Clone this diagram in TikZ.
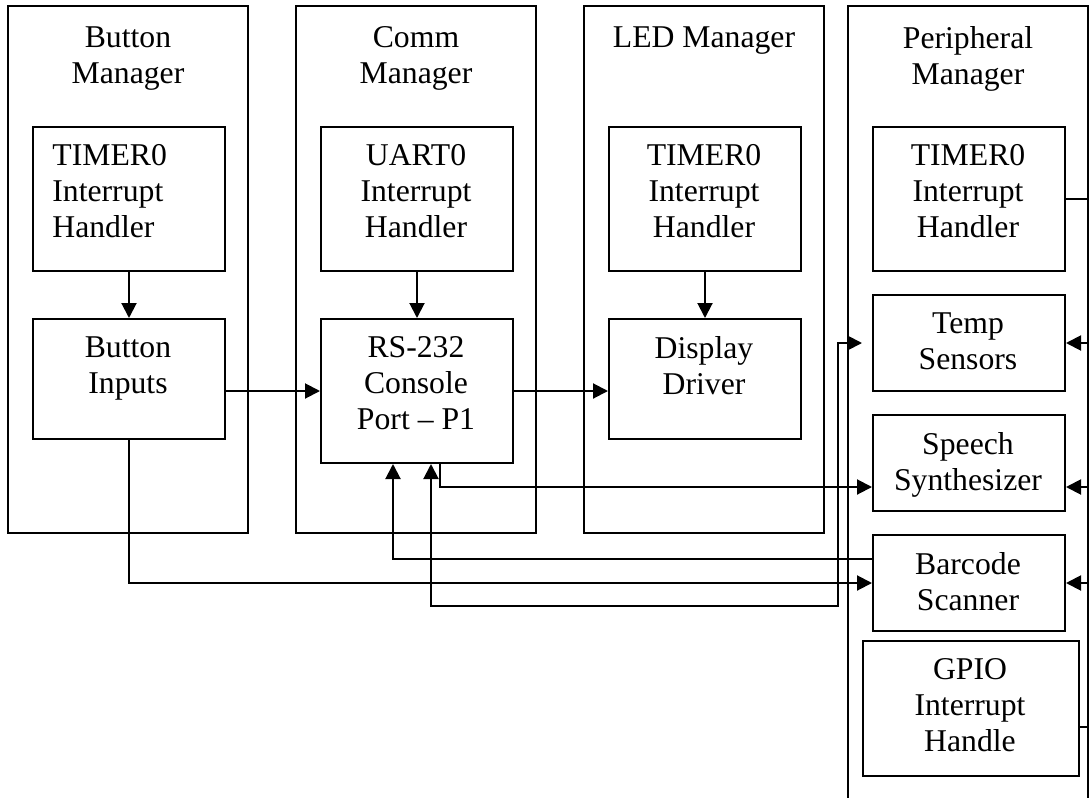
\documentclass[tikz,border=0pt]{standalone}
\usepackage{fontspec}
\setmainfont{Liberation Serif}
\usetikzlibrary{arrows.meta}

\tikzset{
  wire/.style={line width=1pt, draw=black},
  arr/.style={wire, -{Triangle[length=7.5pt,width=7.5pt]}},
  group/.style={line width=1pt, draw=black},
  box/.style={draw=black, line width=1pt, rectangle, inner sep=0pt, anchor=north west},
  txt/.style={font=\fontsize{15.85pt}{18pt}\selectfont, inner sep=0pt, align=center, anchor=north},
}

\begin{document}
\begin{tikzpicture}[x=0.5pt,y=-0.5pt]
\useasboundingbox (0,0) rectangle (1091,797);

% manager groups
\draw[group] (8,6) rectangle (248,533);
\draw[group] (296,6) rectangle (536,533);
\draw[group] (584,6) rectangle (824,533);
\draw[group] (848,805) -- (848,6) -- (1088,6) -- (1088,805);
\coordinate (bus) at (1088,0);

\node[txt] (t-bm) at (128,26.5) {Button\\Manager};
\node[txt] (t-cm) at (416,26.5) {Comm\\Manager};
\node[txt] (t-lm) at (704,26.5) {LED Manager};
\node[txt] (t-pm) at (968,26.5) {Peripheral\\Manager};

% Button Manager
\node[box, minimum width=96pt, minimum height=72pt] (btimer) at (32,126) {};
\node[txt, anchor=north west, align=left] (btimer-t) at (52,144.5) {TIMER0\\Interrupt\\Handler};
\node[box, minimum width=96pt, minimum height=60pt] (binputs) at (32,318) {};
\node[txt] (binputs-t) at (128,336.5) {Button\\Inputs};

% Comm Manager
\node[box, minimum width=96pt, minimum height=72pt] (uart) at (320,126) {};
\node[txt] (uart-t) at (416,144.5) {UART0\\Interrupt\\Handler};
\node[box, minimum width=96pt, minimum height=72pt] (rs232) at (320,318) {};
\node[txt] (rs232-t) at (416,336.5) {RS-232\\Console\\Port – P1};

% LED Manager
\node[box, minimum width=96pt, minimum height=72pt] (ltimer) at (608,126) {};
\node[txt] (ltimer-t) at (704,144.5) {TIMER0\\Interrupt\\Handler};
\node[box, minimum width=96pt, minimum height=60pt] (display) at (608,318) {};
\node[txt] (display-t) at (704,336.5) {Display\\Driver};

% Peripheral Manager
\node[box, minimum width=96pt, minimum height=72pt] (ptimer) at (872,126) {};
\node[txt] (ptimer-t) at (968,144.5) {TIMER0\\Interrupt\\Handler};
\node[box, minimum width=96pt, minimum height=48pt] (temp) at (872,294) {};
\node[txt] (temp-t) at (968,312.5) {Temp\\Sensors};
\node[box, minimum width=96pt, minimum height=48pt] (speech) at (872,414) {};
\node[txt] (speech-t) at (968,432.5) {Speech\\Synthesizer};
\node[box, minimum width=96pt, minimum height=48pt] (barcode) at (872,534) {};
\node[txt] (barcode-t) at (968,552.5) {Barcode\\Scanner};
\node[box, minimum width=108pt, minimum height=67.5pt] (gpio) at (862,640) {};
\node[txt] (gpio-t) at (970,658.5) {GPIO\\Interrupt\\Handle};

\coordinate (tjog) at (838,606);

% vertical flows inside groups
\draw[arr] (btimer.south) -- (binputs.north);
\draw[arr] (uart.south) -- (rs232.north);
\draw[arr] (ltimer.south) -- (display.north);

% horizontal flows between groups
\draw[arr] (binputs.east |- rs232.west) -- (rs232.west);
\draw[arr] (rs232.east) -- (rs232.east -| display.west);

% links to the peripherals
\draw[arr] (binputs.south) |- (barcode.west);
\draw[arr] ([yshift=12pt]barcode.west) -| ([xshift=-12pt]rs232.south);
\draw[arr] ([xshift=11.5pt]rs232.south) |- ([yshift=-12pt]speech.west);
\draw[wire, {Triangle[length=7.5pt,width=7.5pt]}-{Triangle[length=7.5pt,width=7.5pt]}, shorten >=5pt]
  ([xshift=7pt]rs232.south) |- (tjog) |- (temp.west);

% peripheral bus on the right
\draw[wire] (ptimer.east) -- (ptimer.east -| bus);
\draw[arr] (temp.east -| bus) -- (temp.east);
\draw[arr] ([yshift=-12pt]speech.east -| bus) -- ([yshift=-12pt]speech.east);
\draw[arr] (barcode.east -| bus) -- (barcode.east);
\draw[wire] ([yshift=-9.25pt]gpio.east) -- ([yshift=-9.25pt]gpio.east -| bus);
\end{tikzpicture}
\end{document}
